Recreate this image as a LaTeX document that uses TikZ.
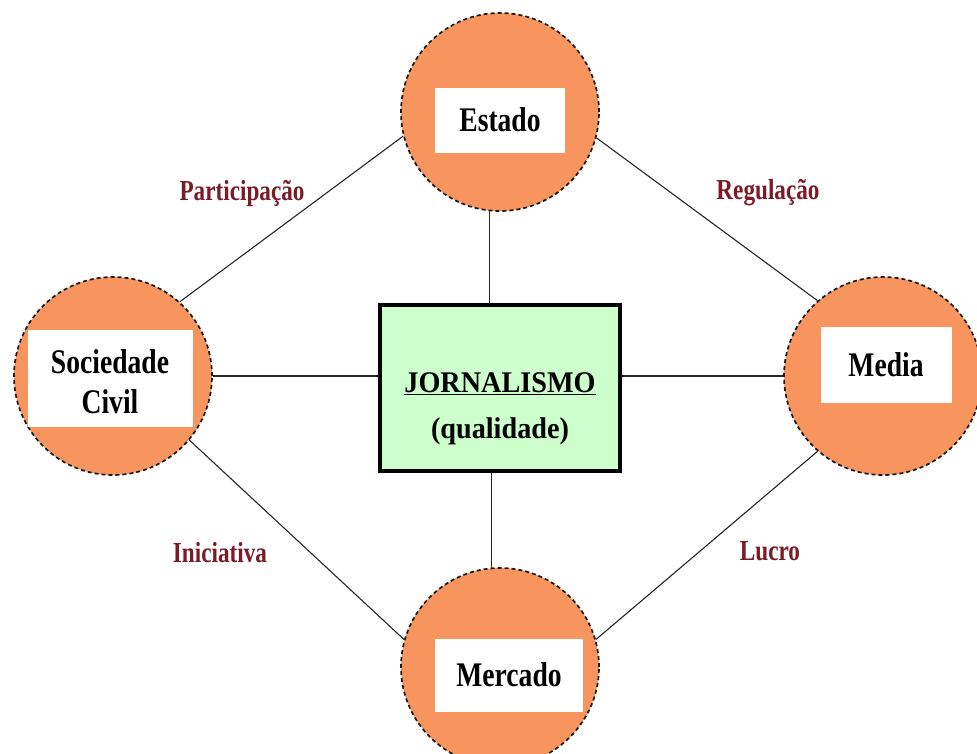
\documentclass[tikz,border=0pt]{standalone}
\usepackage{fontspec}
\newfontfamily\condfont{Liberation Serif}[FakeStretch=0.8]
\newfontfamily\semifont{Liberation Serif}[FakeStretch=0.94]
\definecolor{orangefill}{HTML}{F8955E}
\definecolor{greenfill}{HTML}{CCFFCC}
\definecolor{labelred}{HTML}{7B1B25}
\begin{document}
\begin{tikzpicture}[x=1pt,y=-1pt,
  ball/.style={circle,draw=black!90,fill=orangefill,dashed,dash pattern=on 4pt off 3pt,line width=1.7pt,minimum size=198pt,inner sep=0pt},
  whitebox/.style={fill=white,inner sep=0pt,align=center,font=\condfont\bfseries\fontsize{34.5}{40}\selectfont},
  relabel/.style={text=labelred,inner sep=0pt,font=\condfont\bfseries\fontsize{29}{32}\selectfont},
  link/.style={line width=1.1pt,black!85}]
\useasboundingbox (0,0) rectangle (977,753);
\fill[white] (0,0) rectangle (977,753);
% circles
\node[ball] (estado) at (500,112) {};
\node[ball] (soc) at (113,376) {};
\node[ball] (media) at (883,376) {};
\node[ball] (merc) at (500,667) {};
% central box
\node[draw=black,fill=greenfill,line width=4pt,minimum width=240pt,minimum height=166pt,inner sep=0pt] (jorn) at (500,388) {};
% connectors
\draw[link] (estado.194) -- (soc.48);
\draw[link] (estado.-15) -- (media.131);
\draw[link] (soc.-40) -- (merc.164);
\draw[link] (media.229) -- (merc.16);
\draw[link] (estado.264) -- (estado.264 |- jorn.north);
\draw[link] (merc.95) -- (merc.95 |- jorn.south);
\draw[link] (soc.east) -- (soc.east -| jorn.west);
\draw[link] (media.west) -- (media.west -| jorn.east);
% white boxes with texts
\node[whitebox,minimum width=130pt,minimum height=65pt] (estadotxt) at (500,120) {Estado};
\node[whitebox,minimum width=165pt,minimum height=97pt] (socbox) at (110,378) {};
\node[whitebox,fill=none] (soctxt) at (110,382) {Sociedade\\Civil};
\node[whitebox,minimum width=131pt,minimum height=76pt] (mediatxt) at (886,365) {Media};
\node[whitebox,minimum width=148pt,minimum height=73pt] (merctxt) at (509,675) {Mercado};
% central text
\node[inner sep=0pt,align=center,font=\semifont\bfseries\fontsize{30}{46}\selectfont] (jorntxt) at (500,409) {\underline{JORNALISMO}\\(qualidade)};
% relation labels
\node[relabel] (lpart) at (242,193) {Participação};
\node[relabel] (lreg) at (768,193) {Regulação};
\node[relabel] (lini) at (220,553) {Iniciativa};
\node[relabel] (lluc) at (770,551) {Lucro};
\end{tikzpicture}
\end{document}
